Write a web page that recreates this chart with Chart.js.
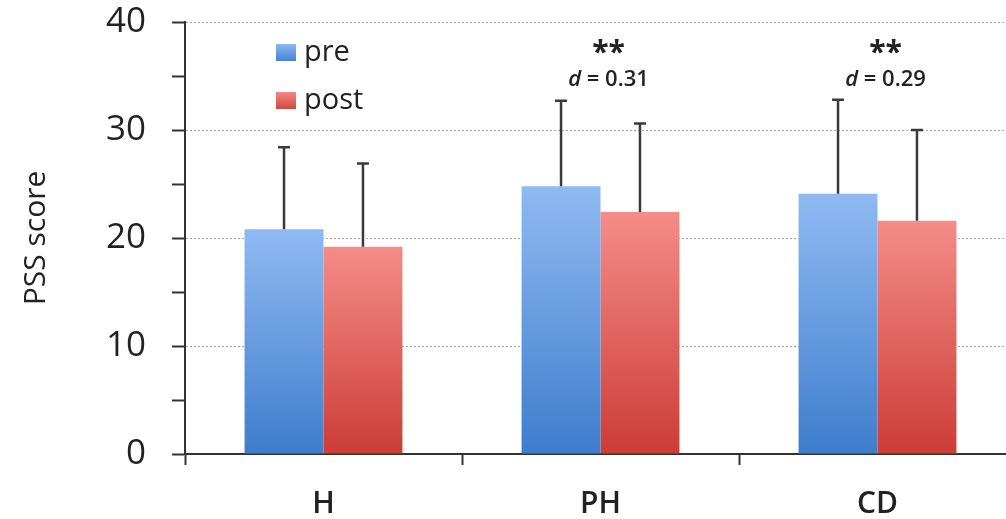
<!DOCTYPE html>
<html>
<head>
<meta charset="utf-8">
<script src="https://cdn.jsdelivr.net/npm/chart.js@4"></script>
<style>
    html, body { margin: 0; padding: 0; background: #fff; overflow: hidden; }
    #wrap { width: 1016px; height: 519px; }
</style>
</head>
<body>
<div id="wrap"><canvas id="pssChart" width="1016" height="519"></canvas></div>
<script>
    // data
    const groups = [ "H", "PH", "CD" ];
    const preMean = [ 20.8, 24.8, 24.1 ];
    const preSD = [ 7.6, 7.9, 8.7 ];
    const postMean = [ 19.2, 22.4, 21.6 ];
    const postSD = [ 7.7, 8.2, 8.4 ];
    const stars = [ "", "**", "**" ];
    const effectD = [ null, 0.31, 0.29 ];

    const FONT = "'Open Sans', 'DejaVu Sans', sans-serif";

    function barGradient(ctx, top, bottom) {
        const chart = ctx.chart;
        const area = chart.chartArea;
        if (!area) return top;
        const y = chart.scales.y;
        const v = ctx.parsed ? ctx.parsed.y : 0;
        const yTop = y.getPixelForValue(v);
        const g = chart.ctx.createLinearGradient(0, yTop, 0, area.bottom);
        g.addColorStop(0, top);
        g.addColorStop(1, bottom);
        return g;
    }

    const errorBars = {
        id: "errorBars",
        afterDatasetsDraw(chart) {
            const c = chart.ctx;
            const y = chart.scales.y;
            const sds = [ preSD, postSD ];
            c.save();
            c.strokeStyle = "#3a3a3a";
            c.lineWidth = 2.5;
            chart.data.datasets.forEach((ds, di) => {
                chart.getDatasetMeta(di).data.forEach((bar, i) => {
                    const top = y.getPixelForValue(ds.data[i] + sds[di][i]);
                    c.beginPath();
                    c.moveTo(bar.x, bar.y);
                    c.lineTo(bar.x, top);
                    c.moveTo(bar.x - 6, top);
                    c.lineTo(bar.x + 6, top);
                    c.stroke();
                });
            });
            c.restore();
        }
    };

    const notes = {
        id: "notes",
        afterDraw(chart) {
            const c = chart.ctx;
            const x = chart.scales.x;
            const y = chart.scales.y;
            c.save();
            c.fillStyle = "#222";
            c.textAlign = "center";
            c.textBaseline = "middle";
            groups.forEach((g, i) => {
                if (!stars[i]) return;
                const cx = x.getPixelForValue(i) + 8;
                c.font = "bold 30px " + FONT;
                c.fillText(stars[i], cx, y.getPixelForValue(37.1));
                const rest = " = " + effectD[i].toFixed(2);
                c.font = "600 22px " + FONT;
                const wRest = c.measureText(rest).width;
                c.font = "italic 600 22px " + FONT;
                const wD = c.measureText("d").width;
                const x0 = cx - (wD + wRest) / 2;
                c.textAlign = "left";
                c.fillText("d", x0, y.getPixelForValue(34.7));
                c.font = "600 22px " + FONT;
                c.fillText(rest, x0 + wD, y.getPixelForValue(34.7));
                c.textAlign = "center";
            });
            // legend
            const area = chart.chartArea;
            const sw = [ [ "#8db8f0", "#4a86d6" ], [ "#f28a87", "#d44a44" ] ];
            chart.data.datasets.forEach((ds, di) => {
                const ly = area.top + 30 + di * 48;
                const g = c.createLinearGradient(0, ly - 8, 0, ly + 8);
                g.addColorStop(0, sw[di][0]);
                g.addColorStop(1, sw[di][1]);
                c.fillStyle = g;
                c.fillRect(area.left + 91, ly - 8, 20, 17);
                c.fillStyle = "#222";
                c.font = "500 29px " + FONT;
                c.textAlign = "left";
                c.fillText(ds.label, area.left + 119, ly + 1);
            });
            c.restore();
        }
    };

    new Chart(document.getElementById("pssChart"), {
        type: "bar",
        data: {
            labels: groups,
            datasets: [ {
                label: "pre",
                data: preMean,
                backgroundColor: ctx => barGradient(ctx, "#8fbaf2", "#3f7dcc")
            }, {
                label: "post",
                data: postMean,
                backgroundColor: ctx => barGradient(ctx, "#f48c88", "#cc3d36")
            } ]
        },
        plugins: [ errorBars, notes ],
        options: {
            responsive: false,
            animation: false,
            layout: { padding: { top: 22, right: 0, left: 0, bottom: 0 } },
            datasets: {
                bar: { categoryPercentage: 0.57, barPercentage: 1, borderWidth: 0 }
            },
            plugins: {
                legend: { display: false },
                tooltip: { enabled: false }
            },
            scales: {
                x: {
                    afterFit: s => { s.height = 65; },
                    grid: {
                        offset: true,
                        drawOnChartArea: false,
                        tickLength: 11,
                        tickColor: "#333",
                        tickWidth: 2
                    },
                    border: { color: "#333", width: 2 },
                    ticks: {
                        color: "#222",
                        padding: 21,
                        font: { family: FONT, size: 30, weight: "600" }
                    }
                },
                y: {
                    min: 0,
                    max: 40,
                    afterFit: s => { s.width = 185; s.paddingTop = 0; },
                    ticks: {
                        stepSize: 5,
                        color: "#222",
                        padding: 26,
                        font: { family: FONT, size: 35, weight: "500" },
                        callback: v => (v % 10 === 0 ? v : "")
                    },
                    grid: {
                        color: ctx => (ctx.tick && ctx.tick.value % 10 === 0 && ctx.tick.value > 0 ? "#a8a8a8" : "rgba(0,0,0,0)"),
                        tickColor: "#333",
                        tickLength: 13,
                        tickWidth: 2,
                        lineWidth: 1
                    },
                    border: { color: "#333", width: 2, dash: [ 2, 2 ] },
                    title: {
                        display: true,
                        text: "PSS score",
                        color: "#222",
                        padding: { top: 18, bottom: 0 },
                        font: { family: FONT, size: 30 }
                    }
                }
            }
        }
    });
</script>
</body>
</html>
